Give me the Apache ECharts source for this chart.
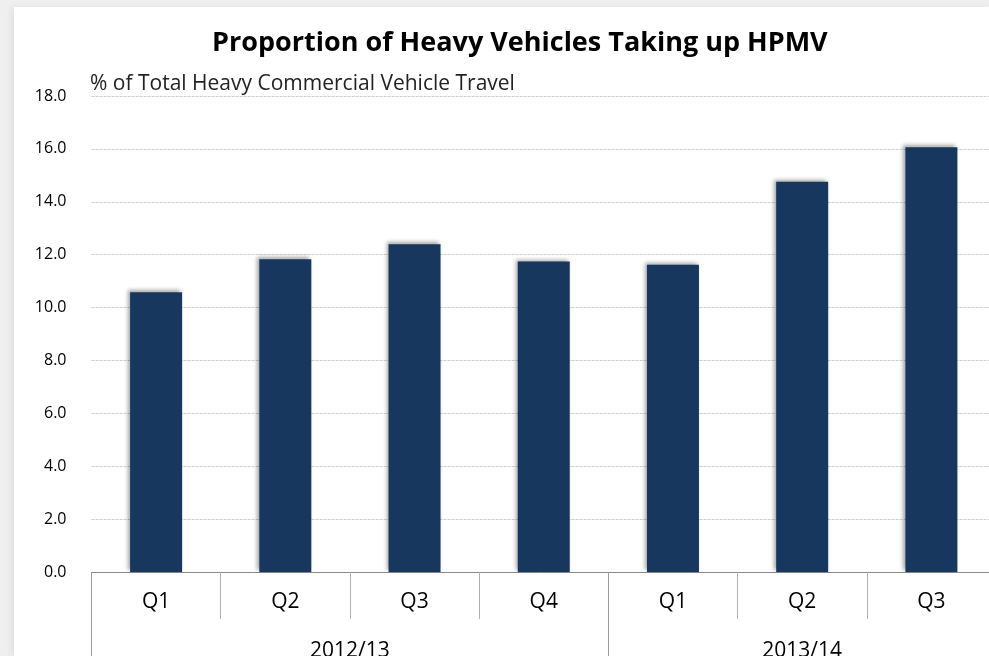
<!DOCTYPE html>
<html>
<head>
<meta charset="utf-8">
<script src="https://cdn.jsdelivr.net/npm/echarts@6/dist/echarts.min.js"></script>
<style>
html, body { margin:0; padding:0; background:#efefef; width:989px; height:656px; overflow:hidden; }
#chart { position:absolute; left:14px; top:7px; width:975px; height:649px; background:#fff;
  box-shadow:-3px 0 6px rgba(0,0,0,0.06); }
</style>
</head>
<body>
<div id="chart"></div>
<script>
// data
var quarters = ['Q1', 'Q2', 'Q3', 'Q4', 'Q1', 'Q2', 'Q3'];
var values = [10.58, 11.83, 12.39, 11.74, 11.62, 14.76, 16.06];
var years = ['2012/13', '2013/14'];
var yearCounts = [4, 3];

// group edges and centres on the 0..n scale
var edges = [0], centres = [];
yearCounts.forEach(function(c, i){
  var start = edges[i];
  edges.push(start + c);
  centres.push(start + c / 2);
});

var font = 'Open Sans';
var myChart = echarts.init(document.getElementById('chart'));

myChart.setOption({
  animation: false,
  title: {
    text: 'Proportion of Heavy Vehicles Taking up HPMV',
    left: 193,
    top: 18,
    textStyle: { fontFamily: font, fontSize: 27, fontWeight: 'bold', color: '#000' }
  },
  graphic: [{
    type: 'text', left: 76, top: 67,
    style: { text: '% of Total Heavy Commercial Vehicle Travel', fontFamily: font, fontSize: 21, fill: '#222' }
  }],
  grid: { left: 77.5, right: -7, top: 89, bottom: 84, containLabel: false, outerBoundsMode: 'none' },
  xAxis: [{
    type: 'category',
    data: quarters,
    axisLine: { lineStyle: { color: '#8a8a8a', width: 1 } },
    axisTick: { show: true, interval: 0, length: 47, lineStyle: { color: '#b0b0b0' } },
    axisLabel: { interval: 0, margin: 20, fontFamily: font, fontSize: 21, color: '#000' }
  }, {
    type: 'value',
    position: 'bottom',
    min: 0,
    max: quarters.length,
    axisLine: { show: false },
    splitLine: { show: false },
    axisTick: { show: true, customValues: edges, length: 90, lineStyle: { color: '#999' } },
    axisLabel: {
      customValues: centres,
      margin: 69,
      fontFamily: font, fontSize: 21, color: '#000',
      formatter: function(v){ return years[centres.indexOf(v)]; }
    }
  }],
  yAxis: {
    type: 'value',
    min: 0,
    max: 18,
    interval: 2,
    axisLine: { show: false },
    axisTick: { show: false },
    axisLabel: { margin: 25, fontFamily: font, fontSize: 16, color: '#000',
      formatter: function(v){ return v.toFixed(1); } },
    splitLine: { lineStyle: { color: '#cfcfcf', type: [3, 1] } }
  },
  series: [{
    type: 'bar',
    data: values,
    barWidth: 52,
    itemStyle: {
      color: '#17375E',
      shadowBlur: 4,
      shadowColor: 'rgba(0,0,0,0.35)',
      shadowOffsetX: -2,
      shadowOffsetY: -2
    }
  }]
});
</script>
</body>
</html>
